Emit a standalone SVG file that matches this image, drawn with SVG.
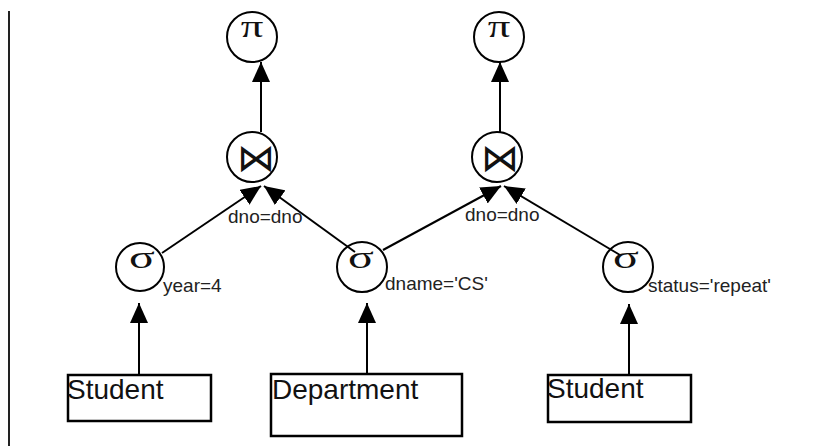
<svg xmlns="http://www.w3.org/2000/svg" width="829" height="446" viewBox="0 0 829 446">
<style>
.c{fill:none;stroke:#000;stroke-width:2}
.b{fill:#fff;stroke:#000;stroke-width:2.5}
.l{stroke:#000;stroke-width:2;fill:none}
.sym{font-family:"Liberation Serif","DejaVu Serif",serif;font-size:32px;text-anchor:middle;fill:#111}
.bow{font-family:"DejaVu Sans",sans-serif;font-size:38px;text-anchor:middle;fill:#111}
.lab{font-family:"Liberation Sans",Arial,sans-serif;font-size:19px;fill:#222}
.bt{font-family:"Liberation Sans",Arial,sans-serif;font-size:28px;fill:#111}
</style>
<defs>
<marker id="ah" markerUnits="userSpaceOnUse" markerWidth="21" markerHeight="18" refX="20" refY="9" orient="auto">
<path d="M0,0 L20,9 L0,18 z" fill="#000"/>
</marker>
</defs>
<rect width="829" height="446" fill="#fff"/>
<line x1="9" y1="11" x2="9" y2="446" stroke="#222" stroke-width="2"/>

<g id="connectors">
<line class="l" x1="261" y1="132" x2="261" y2="62" marker-end="url(#ah)"/>
<line class="l" x1="500" y1="132" x2="500" y2="62" marker-end="url(#ah)"/>
<line class="l" x1="162" y1="253" x2="261" y2="186" marker-end="url(#ah)"/>
<line class="l" x1="355" y1="252" x2="264" y2="186" marker-end="url(#ah)"/>
<line class="l" x1="383" y1="250" x2="501" y2="186" marker-end="url(#ah)"/>
<line class="l" x1="620" y1="255" x2="504" y2="186" marker-end="url(#ah)"/>
<line class="l" x1="139" y1="374" x2="139" y2="303" marker-end="url(#ah)"/>
<line class="l" x1="367" y1="373" x2="367" y2="303" marker-end="url(#ah)"/>
<line class="l" x1="629" y1="374" x2="629" y2="304" marker-end="url(#ah)"/>
<text class="lab" x="228" y="223">dno=dno</text>
<text class="lab" x="465" y="221">dno=dno</text>
</g>

<g id="pi1"><circle class="c" cx="252" cy="37" r="25"/><text class="sym" transform="translate(252,37) scale(1.4,1)">π</text></g>
<g id="pi2"><circle class="c" cx="499" cy="37" r="25"/><text class="sym" transform="translate(499,37) scale(1.4,1)">π</text></g>
<g id="join1"><circle class="c" cx="252" cy="157" r="25"/><text class="bow" x="256" y="171">⋈</text></g>
<g id="join2"><circle class="c" cx="497" cy="157" r="25"/><text class="bow" x="500" y="171">⋈</text></g>
<g id="sigma1"><circle class="c" cx="140" cy="267" r="24"/><text class="sym" transform="translate(142,268) scale(1.5,1)">σ</text><text class="lab" x="163" y="292">year=4</text></g>
<g id="sigma2"><circle class="c" cx="362" cy="267" r="25"/><text class="sym" transform="translate(361,268) scale(1.5,1)">σ</text><text class="lab" x="385" y="290">dname='CS'</text></g>
<g id="sigma3"><circle class="c" cx="628" cy="267" r="25"/><text class="sym" transform="translate(626,268) scale(1.5,1)">σ</text><text class="lab" x="648" y="292">status='repeat'</text></g>
<g id="student1"><rect class="b" x="68" y="375" width="143" height="46"/><text class="bt" x="67" y="399">Student</text></g>
<g id="department"><rect class="b" x="271" y="374" width="191" height="62"/><text class="bt" x="272" y="399">Department</text></g>
<g id="student2"><rect class="b" x="548" y="375" width="143" height="47"/><text class="bt" x="547" y="398">Student</text></g>
</svg>
